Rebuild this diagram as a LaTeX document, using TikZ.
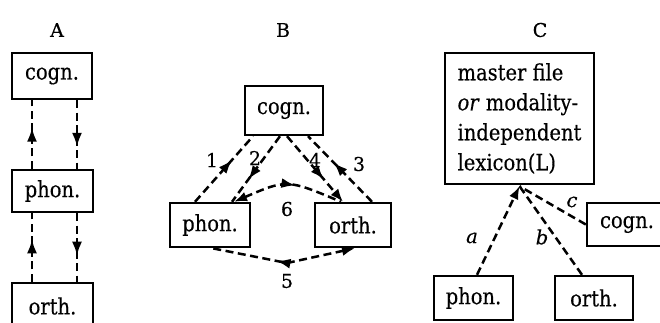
\documentclass[tikz,border=0pt]{standalone}
\usepackage{fontspec}
\usepackage{graphicx}
\setmainfont{DejaVu Serif}[FakeBold=0.4]
\newcommand\vstr[1]{\scalebox{1}[1.15]{#1}}
\usetikzlibrary{arrows.meta,decorations.markings,calc}
\begin{document}
\begin{tikzpicture}[x=1pt,y=-1pt,
  box/.style={draw, line width=2.4pt, inner sep=0pt, font=\fontsize{19.5}{30}\selectfont},
  lbl/.style={font=\fontsize{19}{22}\selectfont, inner sep=0pt},
  ilbl/.style={font=\fontsize{19.5}{22}\selectfont\itshape, inner sep=0pt},
  dl/.style={line width=2.5pt, dash pattern=on 8pt off 4.5pt},
  tip/.style={-{Latex[length=13pt,width=10pt]}},
  pit/.style={{Latex[length=13pt,width=10pt]}-},
  midarrow/.style={postaction={decorate}, decoration={markings,
     mark=at position #1 with {\arrow{Latex[length=14pt,width=10pt]}}}}
]
\useasboundingbox (0,0) rectangle (660,322);
\clip (0,0) rectangle (660,322);

% ---------- Panel A ----------
\node[lbl] (labA) at (57,30) {A};
\node[box, minimum width=80pt, minimum height=46pt] (cA) at (52,76) {\vstr{cogn.}};
\node[box, minimum width=81pt, minimum height=42pt] (pA) at (52.5,191) {\vstr{phon.}};
\node[box, minimum width=81pt, minimum height=46pt] (oA) at (52.5,306) {\vstr{orth.}};
\draw[dl, midarrow=0.6] ([xshift=-20.5pt]pA.north) -- ([xshift=-20pt]cA.south);
\draw[dl, midarrow=0.68] ([xshift=25pt]cA.south) -- ([xshift=24.5pt]pA.north);
\draw[dl, midarrow=0.62] ([xshift=-20.5pt]oA.north) -- ([xshift=-20.5pt]pA.south);
\draw[dl, midarrow=0.62] ([xshift=24.5pt]pA.south) -- ([xshift=24.5pt]oA.north);

% ---------- Panel B ----------
\node[lbl] (labB) at (283,30) {B};
\node[box, minimum width=78pt, minimum height=49pt] (cB) at (284,110.5) {\vstr{cogn.}};
\node[box, minimum width=80pt, minimum height=44pt] (pB) at (210,225) {\vstr{phon.}};
\node[box, minimum width=76pt, minimum height=44pt] (oB) at (353,225) {\vstr{orth.}};
\coordinate (m5) at (287,263);
% 1
\draw[dl, midarrow=0.64] ([xshift=-15pt]pB.north) -- ([xshift=-31pt]cB.south);
% 2
\draw[dl, midarrow=0.66] ([xshift=-4pt]cB.south) -- ([xshift=22pt]pB.north);
% 4
\draw[dl, tip, midarrow=0.66] ([xshift=3pt]cB.south) -- ([xshift=-10pt]oB.north);
% 3
\draw[dl, midarrow=0.6] ([xshift=19pt]oB.north) -- ([xshift=24pt]cB.south);
% 6
\draw[dl, pit, midarrow=0.57] ([xshift=24pt]pB.north) .. controls (287,179) .. ([xshift=-12pt]oB.north);
% 5
\draw[dl, pit, midarrow=0.55] ([xshift=2pt]oB.south) -- (m5) -- ([xshift=2pt]pB.south);
\node[lbl] (n1) at (212,160) {1};
\node[lbl] (n2) at (255,158) {2};
\node[lbl] (n4) at (315,160) {4};
\node[lbl] (n3) at (359,164) {3};
\node[lbl] (n6) at (287,209) {6};
\node[lbl] (n5) at (287,281) {5};

% ---------- Panel C ----------
\node[lbl] (labC) at (540,30) {C};
\node[box, minimum width=149pt, minimum height=131pt, align=left] (L) at (519.5,118.5)
  {\vstr{master file}\\\vstr{\textit{or} modality-}\\\vstr{independent}\\\vstr{lexicon(L)}};
\node[box, minimum width=80pt, minimum height=43pt] (cC) at (627,224.5) {\vstr{cogn.}};
\node[box, minimum width=79pt, minimum height=44pt] (pC) at (473.5,298) {\vstr{phon.}};
\node[box, minimum width=78pt, minimum height=44pt] (oC) at (594,298) {\vstr{orth.}};
\draw[dl, tip] ([xshift=3.5pt]pC.north) -- ([yshift=-1pt]L.south);
\draw[dl] ([xshift=-12pt]oC.north) -- ([yshift=-1pt]L.south);
\draw[dl] (cC.west) -- ([yshift=-1pt]L.south);
\node[ilbl] (la) at (472,238) {a};
\node[ilbl] (lb) at (542,237) {b};
\node[ilbl] (lc) at (572,202) {c};
\end{tikzpicture}
\end{document}
